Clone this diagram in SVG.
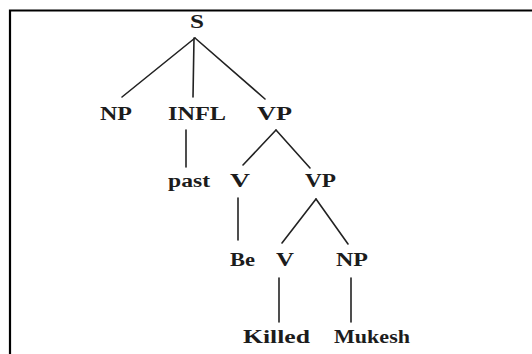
<svg xmlns="http://www.w3.org/2000/svg" width="532" height="354" viewBox="0 0 532 354">
  <style>
    .lbl { font-family: "Liberation Serif", "Times New Roman", serif; font-weight: bold; font-size: 18px; fill: #1c1c1c; }
    .edge { stroke: #222; stroke-width: 1.6; stroke-linecap: round; fill: none; }
    .frame { stroke: #000; stroke-width: 2.2; fill: none; }
  </style>
  <rect width="532" height="354" fill="#fff"/>
  <!-- frame: top and left rules -->
  <path class="frame" d="M10 354 V10.5 H532"/>

  <g id="connectors">
    <line class="edge" x1="195" y1="38" x2="122" y2="97"/>
    <line class="edge" x1="194" y1="38" x2="193" y2="97"/>
    <line class="edge" x1="195" y1="38" x2="265" y2="99"/>
    <line class="edge" x1="186" y1="130" x2="186" y2="167"/>
    <line class="edge" x1="276" y1="130" x2="243" y2="165"/>
    <line class="edge" x1="276" y1="130" x2="310" y2="168"/>
    <line class="edge" x1="238" y1="198" x2="238" y2="240"/>
    <line class="edge" x1="316" y1="199" x2="282" y2="243"/>
    <line class="edge" x1="316" y1="199" x2="348" y2="244"/>
    <line class="edge" x1="279" y1="278" x2="279" y2="322"/>
    <line class="edge" x1="351" y1="278" x2="351" y2="322"/>
  </g>

  <g id="n-S"><text class="lbl" x="190" y="28" textLength="14" lengthAdjust="spacingAndGlyphs">S</text></g>
  <g id="n-NP1"><text class="lbl" x="100" y="120" textLength="32" lengthAdjust="spacingAndGlyphs">NP</text></g>
  <g id="n-INFL"><text class="lbl" x="168" y="120" textLength="58" lengthAdjust="spacingAndGlyphs">INFL</text></g>
  <g id="n-VP1"><text class="lbl" x="257" y="120" textLength="35" lengthAdjust="spacingAndGlyphs">VP</text></g>
  <g id="n-past"><text class="lbl" x="168" y="187" textLength="42" lengthAdjust="spacingAndGlyphs">past</text></g>
  <g id="n-V1"><text class="lbl" x="230" y="187" textLength="20" lengthAdjust="spacingAndGlyphs">V</text></g>
  <g id="n-VP2"><text class="lbl" x="305" y="187" textLength="31" lengthAdjust="spacingAndGlyphs">VP</text></g>
  <g id="n-Be"><text class="lbl" x="230" y="266" textLength="25" lengthAdjust="spacingAndGlyphs">Be</text></g>
  <g id="n-V2"><text class="lbl" x="276" y="266" textLength="18" lengthAdjust="spacingAndGlyphs">V</text></g>
  <g id="n-NP2"><text class="lbl" x="336" y="266" textLength="32" lengthAdjust="spacingAndGlyphs">NP</text></g>
  <g id="n-Killed"><text class="lbl" x="243" y="343" textLength="67" lengthAdjust="spacingAndGlyphs">Killed</text></g>
  <g id="n-Mukesh"><text class="lbl" x="334" y="343" textLength="76" lengthAdjust="spacingAndGlyphs">Mukesh</text></g>
</svg>
